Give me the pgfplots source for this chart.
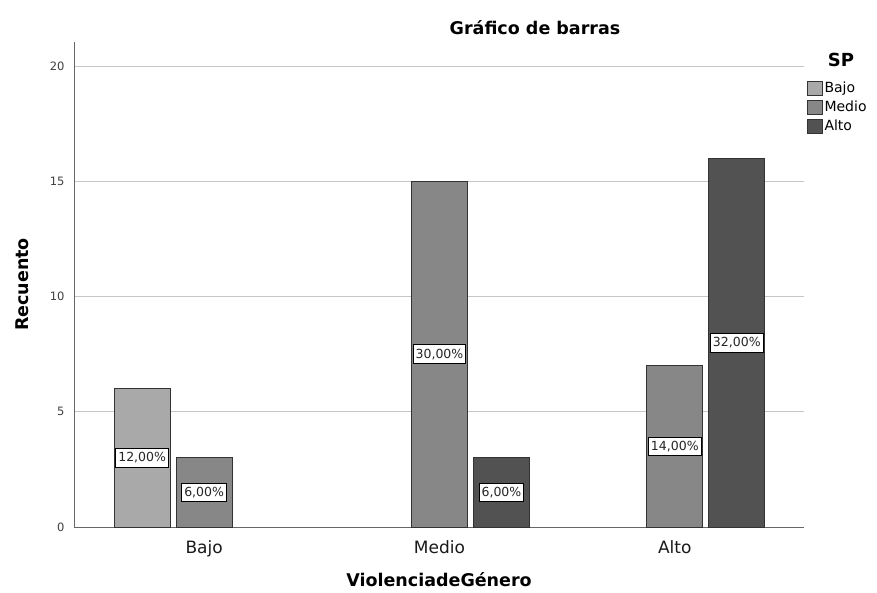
\documentclass[border=0pt]{standalone}
\usepackage{fontspec}
\setmainfont{DejaVu Sans}
\usepackage{pgfplots}
\pgfplotsset{compat=1.18}
\usetikzlibrary{calc}
\definecolor{cBajo}{HTML}{A9A9A9}
\definecolor{cMedio}{HTML}{878787}
\definecolor{cAlto}{HTML}{525252}
\definecolor{edge}{HTML}{333333}
\begin{document}
\begin{tikzpicture}
\begin{axis}[
  name=ax,
  scale only axis,
  width=730pt, height=485pt,
  ybar, bar width=56pt,
  xmin=-0.553, xmax=2.549,
  ymin=0, ymax=21.04,
  axis x line=bottom, axis y line=left,
  axis line style={draw=gray!80!black, line width=0.9pt, -},
  xtick={0,1,2},
  xticklabels={Bajo,Medio,Alto},
  ytick={0,5,10,15,20},
  major tick length=0pt,
  x tick label style={font=\fontsize{17}{20}\selectfont, yshift=-10pt, text=black!90},
  y tick label style={font=\fontsize{11.5}{13}\selectfont, text=black!75, xshift=-6pt},
  /pgf/number format/assume math mode=true,
  ymajorgrids, grid style={draw=gray!45, line width=0.9pt},
  xlabel={\textbf{ViolenciadeGénero}},
  ylabel={\textbf{Recuento}},
  xlabel style={font=\fontsize{17.5}{20}\selectfont, at={(axis description cs:0.5,-0.109)}, anchor=center},
  ylabel style={font=\fontsize{17.5}{20}\selectfont, at={(axis description cs:-0.0712,0.5)}, anchor=center, rotate=0},
  title={\textbf{Gráfico de barras}},
  title style={font=\fontsize{17.5}{20}\selectfont, at={(axis description cs:0.6315,1.0166)}, anchor=center},
  point meta=explicit,
  nodes near coords={\pgfmathprintnumber[fixed,fixed zerofill,precision=2,use comma]{\pgfplotspointmeta}\%},
  visualization depends on=rawy/2 \as \half,
  every node near coord/.append style={
    anchor=center, shift={(axis direction cs:0,-\half)},
    fill=white, draw=black, line width=0.9pt, inner xsep=2.5pt, inner ysep=4pt,
    font=\fontsize{12.5}{14}\selectfont, text=black!85},
  legend style={draw=none, fill=none, at={(1.004,0.9237)}, anchor=north west,
    font=\fontsize{14}{15}\selectfont, row sep=0pt, inner sep=0pt,
    nodes={inner sep=1.5pt, text height=12pt, text depth=4pt}},
  legend cell align=left,
  legend image code/.code={\draw[#1, draw=edge, line width=0.9pt] (0pt,-7pt) rectangle (15pt,7pt);},
]
\addplot[fill=cBajo, draw=edge, line width=0.9pt, bar shift=-62pt] coordinates {(0,6) [12]};
\addplot[fill=cMedio, draw=edge, line width=0.9pt, bar shift=0pt] coordinates {(0,3) [6] (1,15) [30] (2,7) [14]};
\addplot[fill=cAlto, draw=edge, line width=0.9pt, bar shift=62pt] coordinates {(1,3) [6] (2,16) [32]};
\legend{Bajo,Medio,Alto}
\end{axis}
\node[font=\fontsize{18}{20}\selectfont\bfseries, anchor=center] at ($(ax.north east)+(37pt,-18pt)$) {SP};
\pgfresetboundingbox
\path[use as bounding box] ($(ax.south west)+(-74pt,-65pt)$) rectangle ($(ax.north east)+(73pt,42pt)$);
\end{tikzpicture}
\end{document}
